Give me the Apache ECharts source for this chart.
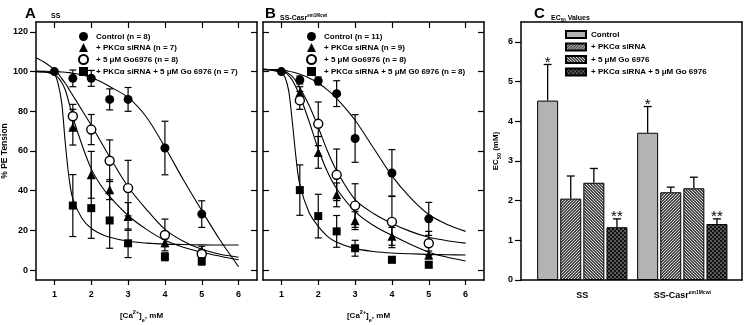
<!DOCTYPE html>
<html>
<head>
<meta charset="utf-8">
<script src="https://cdn.jsdelivr.net/npm/echarts@6/dist/echarts.min.js"></script>
<style>
  html, body { margin: 0; padding: 0; background: #fff; }
  #chart { width: 744px; height: 325px; }
</style>
</head>
<body>
<div id="chart"></div>
<script>
// ---- data ----
const concCtrl = [1, 1.5, 2, 2.5, 3, 4, 5]
const concTreat = [1.5, 2, 2.5, 3, 4, 5]
const xTicks = [1, 2, 3, 4, 5, 6]
const yTicks = [0, 20, 40, 60, 80, 100, 120]

// panel A (SS): mean / s.e.
const ssCtrlMean = [100, 96.6, 96.6, 86, 86, 61.5, 28.2]
const ssCtrlErr = [0, 4.2, 4, 5.3, 6, 13.5, 6.7]
const ssSiMean = [72, 48, 40.5, 27, 13.8, 10]
const ssSiErr = [9, 11.8, 5, 7, 2, 2]
const ssGoMean = [77.5, 70.8, 55.1, 41.3, 17.7, 8.1]
const ssGoErr = [6, 7.6, 10.5, 14, 8, 2]
const ssBothMean = [32.5, 31.2, 25, 13.5, 6.7, 4.5]
const ssBothErr = [15.6, 15.2, 14, 7.2, 2, 2]

// panel B (SS-Casr)
const casrCtrlMean = [100, 95.8, 95.3, 88.9, 66.3, 48.9, 25.8]
const casrCtrlErr = [0, 2, 2, 6.5, 12, 11.8, 8.3]
const casrSiMean = [89.4, 59.3, 37.9, 24.9, 17, 7.6]
const casrSiErr = [3, 8, 6, 4.5, 4.5, 2]
const casrGoMean = [85.5, 73.7, 48, 32.5, 24.3, 13.5]
const casrGoErr = [4.5, 11, 13, 11, 13, 6]
const casrBothMean = [40.3, 27.2, 19.5, 11, 5.2, 2.7]
const casrBothErr = [12.7, 11, 8, 4, 1.5, 1.5]

// fitted curves, read at these concentrations
const fitConc = [0.5, 0.75, 1, 1.1, 1.2, 1.3, 1.4, 1.5, 1.75, 2, 2.25, 2.5, 3, 3.5, 4, 4.5, 5, 5.5, 6]
const ssCtrlFit = [100.3, 100.2, 100, 99.9, 99.8, 99.7, 99.5, 99.2, 98.3, 97, 95, 92.5, 87, 77, 62, 45.5, 30, 15, 1.7]
const ssSiFit = [100, 99.8, 98.5, 97, 94.5, 90.5, 84, 77, 63, 51, 43, 37, 27.5, 20.5, 15, 11.5, 9, 7, 5.2]
const ssGoFit = [107, 104.5, 101, 99, 96.5, 94, 91, 88, 80.5, 73, 65, 57, 42, 30.5, 20.5, 14.5, 10.5, 8, 6.5]
const ssBothFit = [100, 99.8, 98.5, 94, 84, 63, 46, 36, 26, 21, 18.3, 16.5, 14.5, 13.6, 13.1, 12.9, 12.7, 12.6, 12.6]
const casrCtrlFit = [101.2, 101, 100.7, 100.5, 100.2, 99.8, 99.3, 98.7, 96.8, 94.3, 90.8, 86.5, 75.5, 61.5, 47.5, 36.5, 28, 23, 19.5]
const casrSiFit = [101.2, 101, 100.3, 99.5, 98, 95.5, 92, 88, 75, 61, 49.5, 41, 29.5, 22.5, 17.5, 13, 9, 6.5, 4.6]
const casrGoFit = [101.2, 101, 100.5, 100, 99, 97.5, 95, 92, 83, 72, 60, 50, 35.5, 28.5, 23.5, 19.5, 16.5, 14.8, 13.6]
const casrBothFit = [101, 100.6, 99.3, 97, 90, 74, 56, 43, 29, 22, 17, 14, 10.8, 9.4, 8.6, 8.2, 7.9, 7.7, 7.6]

const legendA = ['Control (n = 8)', '+ PKCα siRNA (n = 7)', '+ 5 μM Go6976 (n = 8)', '+ PKCα siRNA + 5 μM Go 6976 (n = 7)']
const legendB = ['Control (n = 11)', '+ PKCα siRNA (n = 9)', '+ 5 μM Go6976 (n = 8)', '+ PKCα siRNA + 5 μM G0 6976 (n = 8)']

// panel C: EC50 values
const groups = ['SS', 'SS-Casr']
const groupSup = ['', 'em1Mcwi']
const groupPos = [1, 2]
const ecTicks = [0, 1, 2, 3, 4, 5, 6]
const barNames = ['Control', '+ PKCα siRNA', '+ 5 μM Go 6976', '+ PKCα siRNA + 5 μM Go 6976']
const ecCtrl = [4.52, 3.71]
const ecCtrlErr = [0.91, 0.66]
const ecSi = [2.05, 2.21]
const ecSiErr = [0.57, 0.13]
const ecGo = [2.45, 2.31]
const ecGoErr = [0.36, 0.28]
const ecBoth = [1.33, 1.41]
const ecBothErr = [0.21, 0.13]
const ctrlStars = ['*', '*']
const bothStars = ['**', '**']

// ---- styling helpers ----
const FONT = 'Liberation Sans, Arial, sans-serif'
const black = '#000'

function pattern(fn, size) {
  const c = document.createElement('canvas')
  c.width = c.height = size
  const ctx = c.getContext('2d')
  for (let y = 0; y < size; y++) {
    for (let x = 0; x < size; x++) {
      ctx.fillStyle = fn(x, y)
      ctx.fillRect(x, y, 1, 1)
    }
  }
  return { image: c, repeat: 'repeat' }
}
const fwdHatch = pattern((x, y) => (((x + y) % 3) === 0 ? '#d4d4d4' : '#4a4a4a'), 6)
const backHatch = pattern((x, y) => ((((x - y) % 3) + 3) % 3 === 0 ? '#d4d4d4' : '#4a4a4a'), 6)
const checker = pattern((x, y) => ((Math.floor(x / 2) + Math.floor(y / 2)) % 2 === 0 ? '#111' : '#5a5a5a'), 4)
const barFills = ['#b3b3b3', fwdHatch, backHatch, checker]

const rich = {
  sup: { fontSize: 5.5, fontWeight: 'bold', fontFamily: FONT, lineHeight: 6, verticalAlign: 'top', color: black },
  sub: { fontSize: 5.5, fontWeight: 'bold', fontFamily: FONT, lineHeight: 6, verticalAlign: 'bottom', color: black }
}

const axisLine = { show: true, onZero: false, lineStyle: { color: black, width: 1.5 } }
const tickStyle = { color: black, width: 1.2 }
const labelStyle = { color: black, fontSize: 9, fontWeight: 'bold', fontFamily: FONT }

function doseAxes(grid, showYLabels) {
  const x = [
    {
      type: 'value', gridIndex: grid, position: 'bottom', min: 0.5, max: 6.5,
      axisLine, splitLine: { show: false },
      axisTick: { show: true, inside: false, length: 5, lineStyle: tickStyle, customValues: xTicks },
      axisLabel: { ...labelStyle, margin: 10, customValues: xTicks },
      name: '[Ca{sup|2+}]{sub|e}, mM', nameLocation: 'middle', nameGap: 29,
      nameTextStyle: { color: black, fontSize: 8, fontWeight: 'bold', fontFamily: FONT, lineHeight: 14, padding: [0, 10, 0, 0], rich }
    },
    {
      type: 'value', gridIndex: grid, position: 'top', min: 0.5, max: 6.5,
      axisLine, splitLine: { show: false },
      axisTick: { show: true, inside: true, length: 6, lineStyle: tickStyle, customValues: xTicks },
      axisLabel: { show: false }
    }
  ]
  const y = [
    {
      type: 'value', gridIndex: grid, position: 'left', min: -5, max: 125,
      axisLine, splitLine: { show: false },
      axisTick: { show: true, inside: !showYLabels, length: 6, lineStyle: tickStyle, customValues: yTicks },
      axisLabel: { ...labelStyle, show: showYLabels, margin: 8, customValues: yTicks },
      name: showYLabels ? '% PE Tension' : '', nameLocation: 'middle', nameGap: 25,
      nameTextStyle: { color: black, fontSize: 8.5, fontWeight: 'bold', fontFamily: FONT }
    },
    {
      type: 'value', gridIndex: grid, position: 'right', min: -5, max: 125,
      axisLine, splitLine: { show: false },
      axisTick: { show: true, inside: true, length: 6, lineStyle: tickStyle, customValues: yTicks },
      axisLabel: { show: false }
    }
  ]
  return { x, y }
}

function errorBars(axisIdx, xs, means, errs) {
  return {
    type: 'custom', xAxisIndex: axisIdx, yAxisIndex: axisIdx, z: 3, silent: true,
    data: xs.map((c, i) => [c, means[i], errs[i]]),
    renderItem(params, api) {
      const c = api.value(0), m = api.value(1), e = api.value(2)
      if (!e) return null
      const top = api.coord([c, m + e])
      const bot = api.coord([c, m - e])
      const hw = 3.5
      const st = { stroke: black, lineWidth: 1.2 }
      return {
        type: 'group',
        children: [
          { type: 'line', shape: { x1: top[0], y1: top[1], x2: bot[0], y2: bot[1] }, style: st },
          { type: 'line', shape: { x1: top[0] - hw, y1: top[1], x2: top[0] + hw, y2: top[1] }, style: st },
          { type: 'line', shape: { x1: bot[0] - hw, y1: bot[1], x2: bot[0] + hw, y2: bot[1] }, style: st }
        ]
      }
    }
  }
}

const markerStyles = [
  { symbol: 'circle', symbolSize: 9, itemStyle: { color: black, opacity: 1 } },
  { symbol: 'triangle', symbolSize: 9, itemStyle: { color: black, opacity: 1 } },
  { symbol: 'circle', symbolSize: 9, itemStyle: { color: '#fff', borderColor: black, borderWidth: 1.4, opacity: 1 } },
  { symbol: 'rect', symbolSize: 8, itemStyle: { color: black, opacity: 1 } }
]

function dosePanel(axisIdx, names, means, errs, fits) {
  const out = []
  fits.forEach(f => {
    out.push({
      type: 'line', xAxisIndex: axisIdx, yAxisIndex: axisIdx, z: 2, silent: true,
      showSymbol: false, smooth: 0.3, clip: true,
      lineStyle: { color: black, width: 1.1 },
      data: fitConc.map((c, i) => [c, f[i]])
    })
  })
  means.forEach((m, k) => {
    const xs = k === 0 ? concCtrl : concTreat
    out.push(errorBars(axisIdx, xs, m, errs[k]))
  })
  means.forEach((m, k) => {
    const xs = k === 0 ? concCtrl : concTreat
    out.push({
      type: 'scatter', name: names[k], xAxisIndex: axisIdx, yAxisIndex: axisIdx, z: 4,
      ...markerStyles[k],
      data: xs.map((c, i) => [c, m[i]])
    })
  })
  return out
}

// panel C bars
const barW = 21
const barGapPx = 2.1
const ecVals = [ecCtrl, ecSi, ecGo, ecBoth]
const ecErrs = [ecCtrlErr, ecSiErr, ecGoErr, ecBothErr]
const ecStars = [ctrlStars, null, null, bothStars]

const barSeries = []
ecVals.forEach((vals, k) => {
  barSeries.push({
    type: 'bar', name: barNames[k], xAxisIndex: 4, yAxisIndex: 4, z: 2,
    barWidth: barW, barGap: '10%',
    itemStyle: { color: barFills[k], borderColor: black, borderWidth: 1, opacity: 1 },
    data: groupPos.map((p, i) => [p, vals[i]])
  })
})
ecVals.forEach((vals, k) => {
  const off = (k - 1.5) * (barW + barGapPx)
  barSeries.push({
    type: 'custom', xAxisIndex: 4, yAxisIndex: 4, z: 3, silent: true,
    data: groupPos.map((p, i) => [p, vals[i], ecErrs[k][i]]),
    renderItem(params, api) {
      const p = api.value(0), v = api.value(1), e = api.value(2)
      const base = api.coord([p, v])
      const top = api.coord([p, v + e])
      const x = base[0] + off
      const st = { stroke: black, lineWidth: 1.3 }
      const kids = [
        { type: 'line', shape: { x1: x, y1: base[1], x2: x, y2: top[1] }, style: st },
        { type: 'line', shape: { x1: x - 4, y1: top[1], x2: x + 4, y2: top[1] }, style: st }
      ]
      const stars = ecStars[k]
      if (stars) {
        kids.push({
          type: 'text', x: x, y: top[1] - 2,
          style: { text: stars[params.dataIndex], fill: black, fontSize: 15, fontFamily: FONT, align: 'center', verticalAlign: 'middle' }
        })
      }
      return { type: 'group', children: kids }
    }
  })
})

const A = doseAxes(0, true)
const B = doseAxes(1, false)

const legendText = { color: black, fontSize: 8, fontWeight: 'bold', fontFamily: FONT, padding: [0, 0, 0, 3] }
const doseIcons = ['circle', 'triangle', 'circle', 'rect']
const panelLetter = { fontSize: 15, fontWeight: 'bold', fontFamily: FONT, color: black }

const option = {
  animation: false,
  backgroundColor: '#fff',
  title: [
    { text: 'A', left: 20, top: 1, textStyle: panelLetter },
    { text: 'SS', left: 46, top: 8, textStyle: { fontSize: 7, fontWeight: 'bold', fontFamily: FONT, color: black } },
    { text: 'B', left: 260, top: 1, textStyle: panelLetter },
    {
      text: groups[1] + '{sup|' + groupSup[1] + '}', left: 275, top: 8,
      textStyle: { fontSize: 7, fontWeight: 'bold', fontFamily: FONT, color: black, lineHeight: 10, rich: { sup: { ...rich.sup, fontSize: 4.5 } } }
    },
    { text: 'C', left: 529, top: 1, textStyle: panelLetter },
    {
      text: 'EC{sub|50} Values', left: 546, top: 8,
      textStyle: { fontSize: 7, fontWeight: 'bold', fontFamily: FONT, color: black, lineHeight: 10, rich: { sub: { ...rich.sub, fontSize: 4.5 } } }
    }
  ],
  legend: [
    {
      data: legendA.map((n, i) => ({ name: n, icon: doseIcons[i] })),
      orient: 'vertical', left: 73, top: 27, itemWidth: 9, itemHeight: 9, itemGap: 2,
      selectedMode: false, textStyle: legendText
    },
    {
      data: legendB.map((n, i) => ({ name: n, icon: doseIcons[i] })),
      orient: 'vertical', left: 301, top: 27, itemWidth: 9, itemHeight: 9, itemGap: 2,
      selectedMode: false, textStyle: legendText
    },
    {
      data: barNames.map(n => ({ name: n, icon: 'rect' })),
      orient: 'vertical', left: 560, top: 25, itemWidth: 20, itemHeight: 7, itemGap: 3.5,
      selectedMode: false, textStyle: { ...legendText, padding: 0 }
    }
  ],
  grid: [
    { left: 36, top: 22, width: 221, height: 258, outerBoundsMode: 'none' },
    { left: 263, top: 22, width: 221, height: 258, outerBoundsMode: 'none' },
    { left: 521, top: 22, width: 221, height: 258, outerBoundsMode: 'none' }
  ],
  xAxis: [
    ...A.x, ...B.x,
    {
      type: 'value', gridIndex: 2, position: 'bottom', min: 0.387, max: 2.597,
      axisLine, splitLine: { show: false }, axisTick: { show: false },
      axisLabel: {
        ...labelStyle, margin: 10, customValues: groupPos, lineHeight: 12,
        formatter: v => {
          const i = groupPos.indexOf(v)
          if (i < 0) return ''
          return groupSup[i] ? groups[i] + '{sup|' + groupSup[i] + '}' : groups[i]
        },
        rich: { sup: { ...rich.sup, fontSize: 5 } }
      }
    },
    {
      type: 'value', gridIndex: 2, position: 'top', min: 0.387, max: 2.597,
      axisLine, splitLine: { show: false }, axisTick: { show: false }, axisLabel: { show: false }
    }
  ],
  yAxis: [
    ...A.y, ...B.y,
    {
      type: 'value', gridIndex: 2, position: 'left', min: 0, max: 6.5,
      axisLine, splitLine: { show: false },
      axisTick: { show: true, length: 6, lineStyle: tickStyle, customValues: ecTicks },
      axisLabel: { ...labelStyle, margin: 8, customValues: ecTicks },
      name: 'EC{sub|50} (mM)', nameLocation: 'middle', nameGap: 19,
      nameTextStyle: { color: black, fontSize: 8, fontWeight: 'bold', fontFamily: FONT, lineHeight: 13, rich }
    },
    {
      type: 'value', gridIndex: 2, position: 'right', min: 0, max: 6.5,
      axisLine, splitLine: { show: false }, axisTick: { show: false }, axisLabel: { show: false }
    }
  ],
  series: [
    ...dosePanel(0, legendA,
      [ssCtrlMean, ssSiMean, ssGoMean, ssBothMean],
      [ssCtrlErr, ssSiErr, ssGoErr, ssBothErr],
      [ssCtrlFit, ssSiFit, ssGoFit, ssBothFit]),
    ...dosePanel(2, legendB,
      [casrCtrlMean, casrSiMean, casrGoMean, casrBothMean],
      [casrCtrlErr, casrSiErr, casrGoErr, casrBothErr],
      [casrCtrlFit, casrSiFit, casrGoFit, casrBothFit]),
    ...barSeries
  ]
}

const chart = echarts.init(document.getElementById('chart'))
chart.setOption(option)
</script>
</body>
</html>
